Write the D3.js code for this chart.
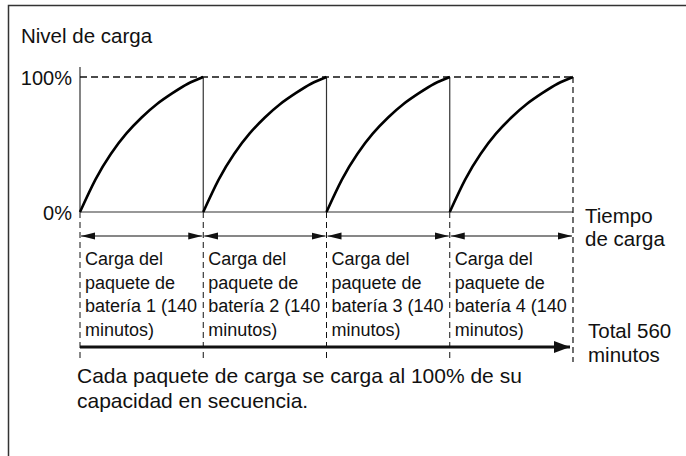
<!DOCTYPE html>
<html>
<head>
<meta charset="utf-8">
<script src="https://cdn.jsdelivr.net/npm/d3@7"></script>
<style>
  body { margin: 0; background: #fff; }
  svg { display: block; font-family: "Liberation Sans", Arial, sans-serif; }
</style>
</head>
<body>
<svg id="chart"></svg>
<script>
const width = 686;
const height = 456;

// packs charged one after another
const packs = [1, 2, 3, 4];
const packMinutes = 140;
const totalMinutes = 560;

// charge level (%), at fractions of a pack's charge time
const curveT = [0, 0.125, 0.25, 0.375, 0.5, 0.625, 0.75, 0.875, 1];
const curveLevel = [0, 24, 43, 58, 70, 80, 88, 95, 100];

const yTicks = [0, 100];
const yTickLabels = ["0%", "100%"];

const svg = d3.select("#chart")
    .attr("width", width)
    .attr("height", height)
    .attr("viewBox", `0 0 ${width} ${height}`);

// frame (runs off the right and bottom of the picture)
svg.append("rect")
    .attr("x", 8.5).attr("y", 5.5)
    .attr("width", 700).attr("height", 470)
    .attr("fill", "none")
    .attr("stroke", "#333")
    .attr("stroke-width", 1.5);

const x = d3.scaleLinear().domain([0, totalMinutes]).range([80, 573]);
const y = d3.scaleLinear().domain([0, 100]).range([212, 77]);

const defs = svg.append("defs");
defs.append("marker")
    .attr("id", "head")
    .attr("viewBox", "0 0 14 8")
    .attr("refX", 14).attr("refY", 4)
    .attr("markerWidth", 14).attr("markerHeight", 8)
    .attr("markerUnits", "userSpaceOnUse")
    .attr("orient", "auto-start-reverse")
    .append("path").attr("d", "M0,0.5 L14,4 L0,7.5 Z").attr("fill", "#111");
defs.append("marker")
    .attr("id", "bighead")
    .attr("viewBox", "0 0 16 12")
    .attr("refX", 16).attr("refY", 6)
    .attr("markerWidth", 16).attr("markerHeight", 12)
    .attr("markerUnits", "userSpaceOnUse")
    .attr("orient", "auto")
    .append("path").attr("d", "M0,0 L16,6 L0,12 Z").attr("fill", "#111");

const boundaries = [0].concat(packs.map(p => p * packMinutes));

// title
svg.append("text")
    .attr("x", 21).attr("y", 43)
    .attr("font-size", 20.5).attr("fill", "#111")
    .text("Nivel de carga");

// y tick labels
svg.selectAll(".ylab")
    .data(yTicks)
    .join("text")
    .attr("class", "ylab")
    .attr("x", 72)
    .attr("y", d => y(d) + 8)
    .attr("text-anchor", "end")
    .attr("font-size", 20)
    .attr("fill", "#111")
    .text((d, i) => yTickLabels[i]);

// y axis line
svg.append("line")
    .attr("x1", x(0)).attr("x2", x(0))
    .attr("y1", 67).attr("y2", y(0))
    .attr("stroke", "#333").attr("stroke-width", 1.2);

// baseline (0%)
svg.append("line")
    .attr("x1", x(0)).attr("x2", x(totalMinutes))
    .attr("y1", y(0)).attr("y2", y(0))
    .attr("stroke", "#333").attr("stroke-width", 1.2);

// dashed 100% line
svg.append("line")
    .attr("x1", x(0)).attr("x2", x(totalMinutes))
    .attr("y1", y(100)).attr("y2", y(100))
    .attr("stroke", "#111").attr("stroke-width", 1.5)
    .attr("stroke-dasharray", "7,4");

// solid drops between packs
svg.selectAll(".drop")
    .data(boundaries.slice(1, -1))
    .join("line")
    .attr("class", "drop")
    .attr("x1", d => x(d)).attr("x2", d => x(d))
    .attr("y1", y(100)).attr("y2", y(0))
    .attr("stroke", "#333").attr("stroke-width", 1.2);

// dashed right edge
svg.append("line")
    .attr("x1", x(totalMinutes)).attr("x2", x(totalMinutes))
    .attr("y1", y(100)).attr("y2", 362)
    .attr("stroke", "#111").attr("stroke-width", 1.2)
    .attr("stroke-dasharray", "6,4");

// dashed guides below the baseline
svg.selectAll(".guide")
    .data(boundaries.slice(0, -1))
    .join("line")
    .attr("class", "guide")
    .attr("x1", d => x(d)).attr("x2", d => x(d))
    .attr("y1", y(0)).attr("y2", 362)
    .attr("stroke", "#111").attr("stroke-width", 1)
    .attr("stroke-dasharray", "6,4");

// charge curves
const line = d3.line()
    .x(d => d[0]).y(d => d[1])
    .curve(d3.curveNatural);

svg.selectAll(".charge")
    .data(packs)
    .join("path")
    .attr("class", "charge")
    .attr("d", p => line(curveT.map((t, i) => [
        x((p - 1) * packMinutes + t * packMinutes), y(curveLevel[i])
    ])))
    .attr("fill", "none")
    .attr("stroke", "#000")
    .attr("stroke-width", 2.6);

// double arrows per pack
svg.selectAll(".span")
    .data(packs)
    .join("line")
    .attr("class", "span")
    .attr("x1", p => x((p - 1) * packMinutes) + 1)
    .attr("x2", p => x(p * packMinutes) - 1)
    .attr("y1", 236).attr("y2", 236)
    .attr("stroke", "#111").attr("stroke-width", 1.2)
    .attr("marker-start", "url(#head)")
    .attr("marker-end", "url(#head)");

// pack labels
const labelLines = p => ["Carga del", "paquete de", `batería ${p} (140`, "minutos)"];
const labels = svg.selectAll(".plabel")
    .data(packs)
    .join("text")
    .attr("class", "plabel")
    .attr("font-size", 18)
    .attr("fill", "#111");
labels.selectAll("tspan")
    .data(p => labelLines(p).map(s => ({ p, s })))
    .join("tspan")
    .attr("x", d => x((d.p - 1) * packMinutes) + 5)
    .attr("y", (d, i) => 265 + i * 23.5)
    .text(d => d.s);

// axis title on the right
svg.append("text")
    .attr("font-size", 20.5).attr("fill", "#111")
    .selectAll("tspan")
    .data(["Tiempo", "de carga"])
    .join("tspan")
    .attr("x", 585)
    .attr("y", (d, i) => 223 + i * 23)
    .text(d => d);

// total arrow
svg.append("line")
    .attr("x1", x(0)).attr("x2", x(totalMinutes) - 3)
    .attr("y1", 347).attr("y2", 347)
    .attr("stroke", "#111").attr("stroke-width", 3)
    .attr("marker-end", "url(#bighead)");

svg.append("text")
    .attr("font-size", 20.5).attr("fill", "#111")
    .selectAll("tspan")
    .data([`Total ${totalMinutes}`, "minutos"])
    .join("tspan")
    .attr("x", 588)
    .attr("y", (d, i) => 338 + i * 23.5)
    .text(d => d);

// caption
svg.append("text")
    .attr("font-size", 21).attr("fill", "#111")
    .selectAll("tspan")
    .data(["Cada paquete de carga se carga al 100% de su", "capacidad en secuencia."])
    .join("tspan")
    .attr("x", 77)
    .attr("y", (d, i) => 383 + i * 25)
    .text(d => d);
</script>
</body>
</html>
